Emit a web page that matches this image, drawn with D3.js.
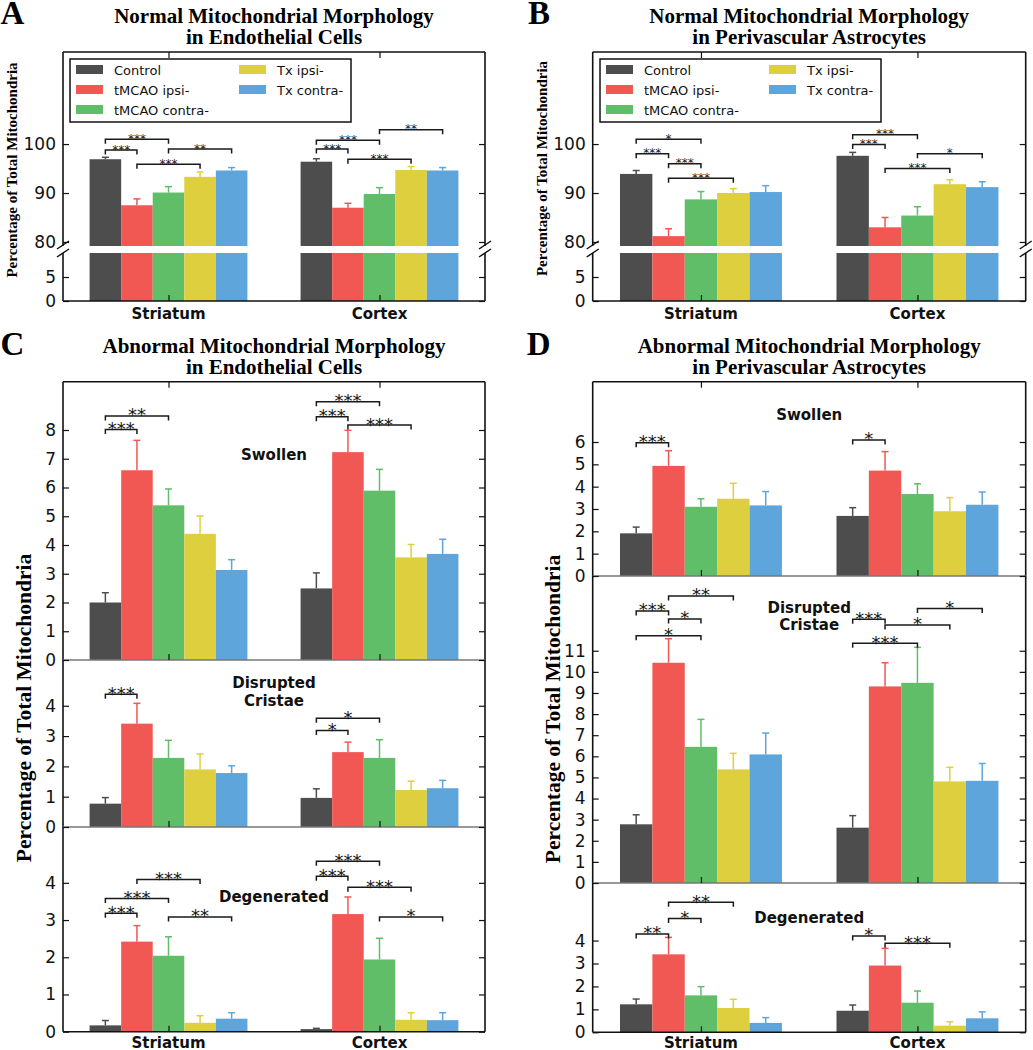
<!DOCTYPE html>
<html><head><meta charset="utf-8">
<script src="https://cdn.jsdelivr.net/npm/d3@7"></script>
<style>body{margin:0;background:#fff}</style>
</head><body>
<svg id="chart" width="1033" height="1050"></svg>
<script>
// ---------- data ----------
const groups = ["Striatum", "Cortex"];
const series = ["Control", "tMCAO ipsi-", "tMCAO contra-", "Tx ipsi-", "Tx contra-"];
const colors = ["#4D4D4D", "#F15854", "#60BD68", "#DECF3F", "#5DA5DA"];

// A: normal, endothelial
const endoNormalMean = [[96.9, 87.5, 90.1, 93.3, 94.6], [96.4, 87.0, 89.8, 94.7, 94.6]];
const endoNormalErr  = [[0.4, 1.3, 1.2, 1.0, 0.6], [0.6, 0.9, 1.3, 0.7, 0.6]];
const endoNormalSig  = [[0,0,1,98.8,"***"],[0,0,2,101.0,"***"],[0,1,3,95.9,"***"],[0,2,4,99.0,"**"],
                        [1,0,1,99.0,"***"],[1,0,2,100.8,"***"],[1,1,3,96.9,"***"],[1,2,4,102.9,"**"]];
// B: normal, astrocytes
const astroNormalMean = [[93.9, 81.2, 88.7, 90.0, 90.2], [97.6, 83.0, 85.4, 91.8, 91.2]];
const astroNormalErr  = [[0.7, 1.5, 1.6, 0.9, 1.3], [0.7, 2.0, 1.8, 0.9, 1.1]];
const astroNormalSig  = [[0,0,2,101.0,"*"],[0,0,1,98.0,"***"],[0,1,2,96.0,"***"],[0,1,3,93.0,"***"],
                         [1,0,2,101.9,"***"],[1,0,1,99.9,"***"],[1,2,4,98.0,"*"],[1,1,3,95.0,"***"]];
const normalTicksTop = [80, 90, 100];
const normalTicksBottom = [0, 5];

// C: abnormal, endothelial
const endoSwollenMean = [[2.0, 6.6, 5.38, 4.39, 3.13], [2.49, 7.23, 5.89, 3.57, 3.69]];
const endoSwollenErr  = [[0.34, 1.04, 0.57, 0.62, 0.36], [0.54, 0.76, 0.74, 0.45, 0.51]];
const endoSwollenSig  = [[0,0,1,8.02,"***"],[0,0,2,8.49,"**"],[1,0,1,8.46,"***"],[1,0,2,8.98,"***"],[1,1,3,8.17,"***"]];
const endoCristaeMean = [[0.77, 3.41, 2.28, 1.9, 1.78], [0.96, 2.47, 2.28, 1.22, 1.28]];
const endoCristaeErr  = [[0.2, 0.67, 0.58, 0.51, 0.24], [0.3, 0.33, 0.6, 0.29, 0.26]];
const endoCristaeSig  = [[0,0,1,4.38,"***"],[1,0,1,3.18,"*"],[1,0,2,3.59,"*"]];
const endoDegenMean = [[0.17, 2.42, 2.04, 0.24, 0.35], [0.07, 3.16, 1.94, 0.32, 0.31]];
const endoDegenErr  = [[0.13, 0.43, 0.51, 0.19, 0.16], [0.02, 0.46, 0.57, 0.19, 0.2]];
const endoDegenSig  = [[0,0,1,3.18,"***"],[0,0,2,3.58,"***"],[0,1,3,4.09,"***"],[0,2,4,3.08,"**"],
                       [1,0,1,4.18,"***"],[1,0,2,4.58,"***"],[1,1,3,3.88,"***"],[1,2,4,3.08,"*"]];
const endoSwollenTicks = [0, 1, 2, 3, 4, 5, 6, 7, 8];
const endoCristaeTicks = [0, 1, 2, 3, 4];
const endoDegenTicks = [0, 1, 2, 3, 4];

// D: abnormal, astrocytes
const astroSwollenMean = [[1.91, 4.93, 3.1, 3.46, 3.16], [2.69, 4.72, 3.67, 2.9, 3.19]];
const astroSwollenErr  = [[0.28, 0.68, 0.36, 0.69, 0.62], [0.37, 0.85, 0.46, 0.61, 0.57]];
const astroSwollenSig  = [[0,0,1,5.97,"***"],[1,0,1,6.09,"*"]];
const astroCristaeMean = [[2.78, 10.43, 6.45, 5.38, 6.09], [2.62, 9.31, 9.48, 4.81, 4.84]];
const astroCristaeErr  = [[0.45, 1.14, 1.3, 0.76, 1.01], [0.57, 1.12, 1.68, 0.67, 0.82]];
const astroCristaeSig  = [[0,1,3,13.59,"**"],[0,0,1,12.88,"***"],[0,1,2,12.5,"*"],[0,0,2,11.71,"*"],
                          [1,2,4,13.0,"*"],[1,0,1,12.49,"***"],[1,1,3,12.22,"*"],[1,0,2,11.36,"***"]];
const astroDegenMean = [[1.22, 3.4, 1.61, 1.06, 0.41], [0.94, 2.91, 1.29, 0.29, 0.61]];
const astroDegenErr  = [[0.23, 0.74, 0.38, 0.38, 0.23], [0.25, 0.75, 0.51, 0.17, 0.28]];
const astroDegenSig  = [[0,1,3,5.67,"**"],[0,1,2,4.96,"*"],[0,0,1,4.29,"**"],[1,0,1,4.2,"*"],[1,1,3,3.88,"***"]];
const astroSwollenTicks = [0, 1, 2, 3, 4, 5, 6];
const astroCristaeTicks = [0, 1, 2, 3, 4, 5, 6, 7, 8, 9, 10, 11];
const astroDegenTicks = [0, 1, 2, 3, 4];

const yTitle = "Percentage of Total Mitochondria";

// ---------- drawing ----------
const svg = d3.select("#chart");
const SERIF = "Liberation Serif";
const SANS = "DejaVu Sans";
const INK = "#111";

function drawPanel(cfg) {
  const root = svg.append("g");
  const xg = d3.scalePoint().domain(groups).range([cfg.x0, cfg.x1]).padding(0.5);
  const gw = 0.374 * (cfg.x1 - cfg.x0);
  const xb = d3.scaleBand().domain(series).range([-gw / 2, gw / 2]);
  const cx = (gi, si) => xg(groups[gi]) + xb(series[si]) + xb.bandwidth() / 2;

  cfg.subs.forEach(s => {
    const y = d3.scaleLinear().domain(s.domain).range([s.yb, s.yt]).clamp(true);
    const data = groups.flatMap((grp, gi) => series.map((ser, si) => ({
      grp, ser, gi, si, v: s.mean[gi][si], e: s.err ? s.err[gi][si] : null })));
    const g = root.append("g");
    g.selectAll("rect.bar").data(data).join("rect").attr("class", "bar")
      .attr("x", d => xg(d.grp) + xb(d.ser)).attr("width", xb.bandwidth())
      .attr("y", d => y(d.v)).attr("height", d => s.yb - y(d.v))
      .attr("fill", d => colors[d.si]);
    if (s.err) {
      const eg = g.selectAll("g.err").data(data).join("g").attr("class", "err")
        .attr("stroke", d => colors[d.si]).attr("stroke-width", 1.5);
      eg.append("line").attr("x1", d => cx(d.gi, d.si)).attr("x2", d => cx(d.gi, d.si))
        .attr("y1", d => y(d.v)).attr("y2", d => y(d.v + d.e));
      eg.append("line").attr("x1", d => cx(d.gi, d.si) - 3.5).attr("x2", d => cx(d.gi, d.si) + 3.5)
        .attr("y1", d => y(d.v + d.e)).attr("y2", d => y(d.v + d.e));
    }
    // spines
    const sp = g.append("g").attr("stroke-width", 1.6).attr("fill", "none");
    sp.append("line").attr("x1", cfg.x0).attr("x2", cfg.x0).attr("y1", s.yt).attr("y2", s.yb).attr("stroke", INK);
    sp.append("line").attr("x1", cfg.x1).attr("x2", cfg.x1).attr("y1", s.yt).attr("y2", s.yb).attr("stroke", INK);
    if (s.top) sp.append("line").attr("x1", cfg.x0).attr("x2", cfg.x1).attr("y1", s.yt).attr("y2", s.yt).attr("stroke", s.top);
    if (s.bottom) sp.append("line").attr("x1", cfg.x0).attr("x2", cfg.x1).attr("y1", s.yb).attr("y2", s.yb).attr("stroke", s.bottom);
    // axes
    const styleAxis = a => {
      a.select(".domain").remove();
      a.attr("font-family", SANS).attr("font-size", 17);
      a.selectAll("line").attr("stroke", INK).attr("stroke-width", 1.2);
      a.selectAll("text").attr("fill", INK).attr("font-family", SANS).attr("font-size", 17);
    };
    g.append("g").attr("transform", `translate(${cfg.x0},0)`)
      .call(d3.axisLeft(y).tickValues(s.ticks).tickSize(-6).tickPadding(7).tickFormat(d3.format("d"))).call(styleAxis);
    g.append("g").attr("transform", `translate(${cfg.x1},0)`)
      .call(d3.axisRight(y).tickValues(s.ticks).tickSize(-6).tickFormat(() => "")).call(styleAxis);
    if (s.xBottom) g.append("g").attr("transform", `translate(0,${s.yb})`)
      .call(d3.axisBottom(xg).tickSize(-6).tickFormat(() => "")).call(styleAxis);
    if (s.xTop) g.append("g").attr("transform", `translate(0,${s.yt})`)
      .call(d3.axisTop(xg).tickSize(-6).tickFormat(() => "")).call(styleAxis);
    // significance brackets
    if (s.sig) {
      const sg = g.selectAll("g.sig").data(s.sig).join("g").attr("class", "sig");
      sg.append("path")
        .attr("d", d => {
          const a = cx(d[0], d[1]), b = cx(d[0], d[2]), yy = y(d[3]);
          return `M${a},${yy + 4.5}L${a},${yy}L${b},${yy}L${b},${yy + 4.5}`;
        })
        .attr("fill", "none").attr("stroke", "#1a1a1a").attr("stroke-width", 1.5);
      sg.append("text")
        .attr("x", d => (cx(d[0], d[1]) + cx(d[0], d[2])) / 2)
        .attr("y", d => y(d[3]) + 0.3 * cfg.starSize)
        .attr("text-anchor", "middle").attr("font-family", SANS)
        .attr("font-size", cfg.starSize).attr("fill", "#1a1a1a").text(d => d[4]);
    }
    // sub-panel labels
    (s.labels || []).forEach(([t, by]) => {
      g.append("text").attr("x", (cfg.x0 + cfg.x1) / 2).attr("y", by)
        .attr("text-anchor", "middle").attr("font-family", SANS).attr("font-weight", "bold")
        .attr("font-size", 15).attr("fill", INK).text(t);
    });
  });

  // break marks
  if (cfg.breaks) {
    cfg.breaks.forEach(by => [cfg.x0, cfg.x1].forEach(bx => {
      root.append("line").attr("x1", bx - 6).attr("y1", by + 4).attr("x2", bx + 6).attr("y2", by - 4)
        .attr("stroke", INK).attr("stroke-width", 1.5);
    }));
  }

  // group labels
  root.selectAll("text.grp").data(groups).join("text").attr("class", "grp")
    .attr("x", d => xg(d)).attr("y", cfg.groupBase)
    .attr("text-anchor", "middle").attr("font-family", SANS).attr("font-weight", "bold")
    .attr("font-size", 15).attr("fill", INK).text(d => d);

  // legend
  if (cfg.legend) {
    const L = cfg.legend;
    const lg = root.append("g").attr("transform", `translate(${L.x},${L.y})`);
    lg.append("rect").attr("width", L.w).attr("height", L.h).attr("fill", "#fff")
      .attr("stroke", INK).attr("stroke-width", 1.5);
    const it = lg.selectAll("g.li").data(series).join("g").attr("class", "li")
      .attr("transform", (d, i) => `translate(${i < 3 ? 6 : 169},${10.5 + 20 * (i % 3)})`);
    it.append("rect").attr("x", 0).attr("y", -4.5).attr("width", 27).attr("height", 9)
      .attr("fill", (d, i) => colors[i]);
    it.append("text").attr("x", 38).attr("y", 5).attr("font-family", SANS).attr("font-size", 13)
      .attr("fill", INK).text(d => d);
  }

  // titles
  cfg.title.forEach((t, i) => {
    root.append("text").attr("x", (cfg.x0 + cfg.x1) / 2).attr("y", cfg.titleBase + 21 * i)
      .attr("text-anchor", "middle").attr("font-family", SERIF).attr("font-weight", "bold")
      .attr("font-size", 21).attr("fill", "#000").text(t);
  });
  root.append("text").attr("x", cfg.letter[0]).attr("y", cfg.letter[1])
    .attr("font-family", SERIF).attr("font-weight", "bold").attr("font-size", 33)
    .attr("fill", "#000").text(cfg.letter[2]);
  root.append("text").attr("transform", `translate(${cfg.yTitle[0]},${cfg.yTitle[1]}) rotate(-90)`)
    .attr("text-anchor", "middle").attr("font-family", SERIF).attr("font-weight", "bold")
    .attr("font-size", cfg.yTitle[2]).attr("fill", "#000").text(yTitle);
}

// Panel A
drawPanel({
  x0: 63, x1: 485, starSize: 12, groupBase: 319, titleBase: 22.5,
  title: ["Normal Mitochondrial Morphology", "in Endothelial Cells"],
  letter: [0.5, 24, "A"], yTitle: [16.5, 170, 15],
  legend: { x: 70, y: 59, w: 281, h: 63 },
  breaks: [245, 253],
  subs: [
    { domain: [79.18, 118.8], yb: 246, yt: 52, mean: endoNormalMean, err: endoNormalErr, sig: endoNormalSig,
      ticks: normalTicksTop, top: INK, xTop: true },
    { domain: [0, 10], yb: 301, yt: 253, mean: endoNormalMean, ticks: normalTicksBottom, bottom: INK, xBottom: true }
  ]
});
// Panel B
drawPanel({
  x0: 592.7, x1: 1025.7, starSize: 12, groupBase: 319, titleBase: 22.5,
  title: ["Normal Mitochondrial Morphology", "in Perivascular Astrocytes"],
  letter: [528, 24, "B"], yTitle: [547, 168.5, 15],
  legend: { x: 600, y: 59, w: 281, h: 63 },
  breaks: [245, 253],
  subs: [
    { domain: [79.18, 118.8], yb: 246, yt: 52, mean: astroNormalMean, err: astroNormalErr, sig: astroNormalSig,
      ticks: normalTicksTop, top: INK, xTop: true },
    { domain: [0, 10], yb: 301, yt: 253, mean: astroNormalMean, ticks: normalTicksBottom, bottom: INK, xBottom: true }
  ]
});
// Panel C
drawPanel({
  x0: 63, x1: 485, starSize: 18, groupBase: 1048, titleBase: 352.5,
  title: ["Abnormal Mitochondrial Morphology", "in Endothelial Cells"],
  letter: [0.5, 355, "C"], yTitle: [31, 708, 21.5],
  subs: [
    { domain: [0, 9.68], yb: 660, yt: 381.7, mean: endoSwollenMean, err: endoSwollenErr, sig: endoSwollenSig,
      ticks: endoSwollenTicks, top: INK, bottom: "#777", xTop: true, xBottom: true, labels: [["Swollen", 459.5]] },
    { domain: [0, 5.51], yb: 827, yt: 660, mean: endoCristaeMean, err: endoCristaeErr, sig: endoCristaeSig,
      ticks: endoCristaeTicks, bottom: "#777", xBottom: true, labels: [["Disrupted", 688], ["Cristae", 706]] },
    { domain: [0, 5.5], yb: 1031.7, yt: 827, mean: endoDegenMean, err: endoDegenErr, sig: endoDegenSig,
      ticks: endoDegenTicks, bottom: INK, xBottom: true, labels: [["Degenerated", 902]] }
  ]
});
// Panel D
drawPanel({
  x0: 592.7, x1: 1025.7, starSize: 18, groupBase: 1048, titleBase: 352.5,
  title: ["Abnormal Mitochondrial Morphology", "in Perivascular Astrocytes"],
  letter: [526.7, 355, "D"], yTitle: [559.5, 709, 21.5],
  subs: [
    { domain: [0, 8.7], yb: 576, yt: 381.7, mean: astroSwollenMean, err: astroSwollenErr, sig: astroSwollenSig,
      ticks: astroSwollenTicks, top: INK, bottom: "#777", xTop: true, xBottom: true, labels: [["Swollen", 420]] },
    { domain: [0, 14.54], yb: 883, yt: 576, mean: astroCristaeMean, err: astroCristaeErr, sig: astroCristaeSig,
      ticks: astroCristaeTicks, bottom: "#777", xBottom: true, labels: [["Disrupted", 612.5], ["Cristae", 629.5]] },
    { domain: [0, 6.51], yb: 1032.3, yt: 883, mean: astroDegenMean, err: astroDegenErr, sig: astroDegenSig,
      ticks: astroDegenTicks, bottom: INK, xBottom: true, labels: [["Degenerated", 922.5]] }
  ]
});
</script>
</body></html>
